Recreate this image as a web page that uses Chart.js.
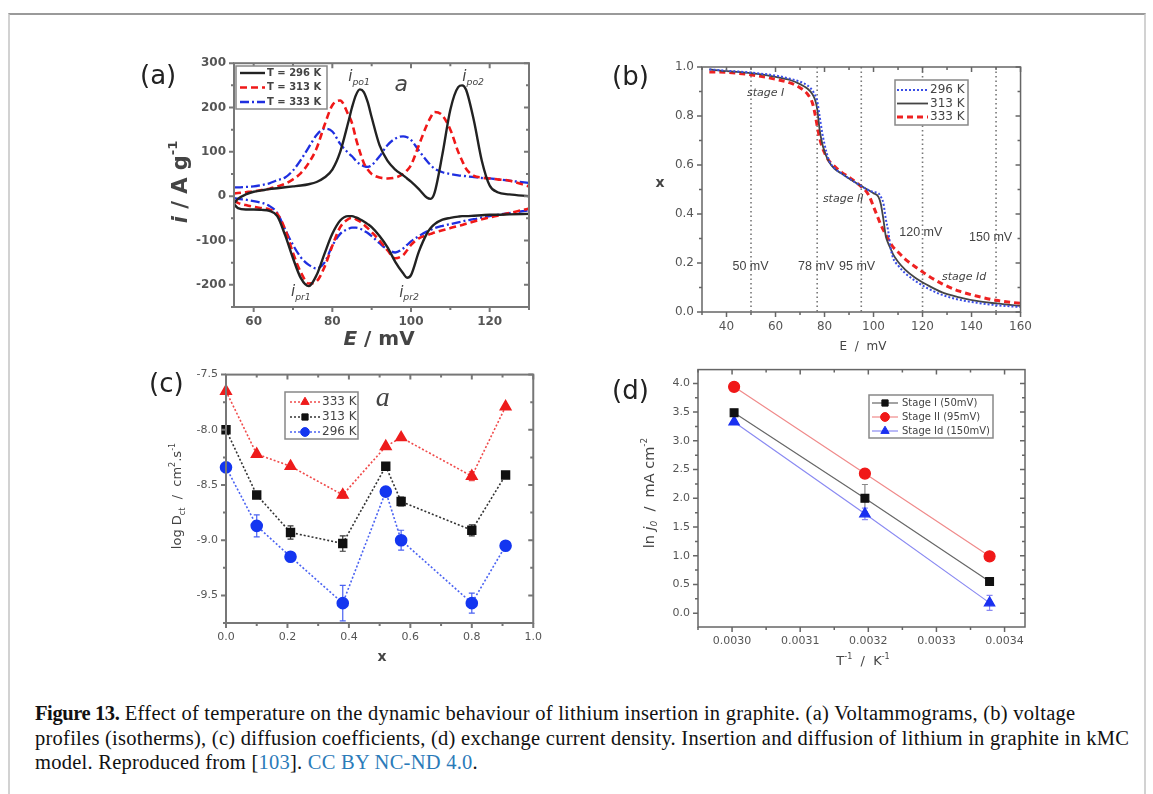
<!DOCTYPE html>
<html>
<head>
<meta charset="utf-8">
<title>Figure 13</title>
<script src="https://cdn.jsdelivr.net/npm/chart.js@4.4.1/dist/chart.umd.min.js"></script>
<style>
  body { margin: 0; background: #fff; }
  #page { position: relative; width: 1153px; height: 794px; overflow: hidden; font-family: "DejaVu Sans", sans-serif; }
  #border { position: absolute; left: 8px; top: 13px; width: 1138px; height: 800px; box-sizing: border-box;
            border-top: 2px solid #9a9a9a; border-left: 2px solid #d2d2d2; border-right: 2px solid #d2d2d2; }
  .panel { position: absolute; }
  .tag { position: absolute; font-size: 26px; color: #222; line-height: 1; }
  .cap { position: absolute; left: 35px; top: 701px; white-space: nowrap; color: #111;
         font-family: "Liberation Serif", serif; font-size: 20.5px; letter-spacing: 0.25px; line-height: 24.5px; }
  .cap b { letter-spacing: -0.4px; }
  .cap .ln { color: #2b7bb9; }
</style>
</head>
<body>
<div id="page">
  <div id="border"></div>

  <div class="panel" style="left:130px;top:48px"><canvas id="cvA" width="410" height="310"></canvas></div>
  <div class="panel" style="left:600px;top:50px"><canvas id="cvB" width="440" height="310"></canvas></div>
  <div class="panel" style="left:130px;top:360px"><canvas id="cvC" width="420" height="310"></canvas></div>
  <div class="panel" style="left:600px;top:355px"><canvas id="cvD" width="440" height="320"></canvas></div>

  <div class="tag" style="left:140px;top:62px">(a)</div>
  <div class="tag" style="left:612px;top:63px">(b)</div>
  <div class="tag" style="left:149px;top:370px">(c)</div>
  <div class="tag" style="left:612px;top:377px">(d)</div>

  <div class="cap">
    <b>Figure 13.</b> Effect of temperature on the dynamic behaviour of lithium insertion in graphite. (a) Voltammograms, (b) voltage<br>
    profiles (isotherms), (c) diffusion coefficients, (d) exchange current density. Insertion and diffusion of lithium in graphite in kMC<br>
    model. Reproduced from [<span class="ln">103</span>]. <span class="ln">CC BY NC-ND 4.0</span>.
  </div>
</div>

<script>
// ---------- (a) voltammograms : potential grid + current for each branch ----------
const aE = [55, 56, 58, 60, 62, 64, 66, 68, 70, 72, 74, 76, 78, 80, 82, 84, 85, 86, 87, 88, 89, 90,
            92, 94, 96, 98, 99, 100, 102, 104, 105, 106, 108, 110, 112, 113, 114, 116, 118, 120, 122, 125, 130];
const a296Up = [-16, -6, 4, 10, 13, 16, 18, 20, 22, 24, 27, 32, 42, 60, 100, 165, 200, 228, 241, 235, 212, 178,
                115, 80, 60, 47, 40, 33, 16, -3, -6, 8, 95, 195, 246, 250, 240, 170, 80, 24, 9, 4, 0];
const a296Dn = [-18, -27, -30, -30, -31, -33, -45, -88, -140, -185, -203, -178, -130, -85, -55, -45, -45, -48, -52, -57, -63, -70,
                -90, -115, -148, -174, -184, -178, -125, -85, -72, -63, -53, -49, -46, -45, -45, -44, -43, -42, -42, -41, -40];
const a313Up = [6, 7, 9, 11, 14, 17, 22, 28, 38, 52, 75, 108, 160, 205, 216, 185, 165, 130, 100, 75, 60, 50,
                42, 40, 42, 50, 58, 70, 115, 160, 178, 190, 182, 150, 100, 80, 62, 46, 42, 40, 38, 35, 22];
const a313Dn = [-10, -15, -20, -24, -27, -30, -40, -75, -128, -172, -197, -192, -160, -112, -70, -52, -49, -52, -57, -64, -72, -81,
                -100, -122, -140, -133, -122, -110, -95, -88, -85, -82, -77, -72, -67, -65, -62, -57, -52, -48, -44, -38, -28];
const a333Up = [20, 20, 21, 22, 25, 29, 36, 42, 58, 82, 110, 138, 152, 146, 118, 98, 90, 80, 72, 68, 66, 70,
                90, 115, 130, 135, 133, 127, 103, 80, 70, 62, 54, 50, 47, 46, 45, 43, 41, 40, 38, 35, 30];
const a333Dn = [-4, -6, -8, -11, -15, -22, -38, -75, -110, -138, -155, -163, -150, -112, -85, -74, -71, -71, -73, -78, -83, -90,
                -106, -120, -127, -118, -110, -102, -90, -80, -76, -72, -67, -63, -59, -57, -55, -52, -48, -45, -42, -38, -32];
const aLabels = ['T = 296 K', 'T = 313 K', 'T = 333 K'];
const aTicksX = [60, 80, 100, 120];
const aTicksY = [-200, -100, 0, 100, 200, 300];

// ---------- (b) voltage profiles ----------
const bE = [33, 40, 50, 60, 66, 70, 73, 75, 76, 77, 78, 79, 80, 81, 82, 84, 87, 90, 94, 98,
            100, 102, 103, 104, 105, 106, 107, 108, 110, 113, 117, 122, 128, 135, 142, 150, 160];
const b296 = [0.99, 0.985, 0.977, 0.965, 0.952, 0.94, 0.925, 0.905, 0.888, 0.862, 0.80, 0.735, 0.685, 0.645, 0.615, 0.588, 0.565, 0.545, 0.52, 0.497,
              0.49, 0.485, 0.47, 0.445, 0.38, 0.33, 0.26, 0.22, 0.19, 0.158, 0.127, 0.097, 0.07, 0.05, 0.038, 0.028, 0.02];
const b313 = [0.99, 0.983, 0.975, 0.96, 0.947, 0.93, 0.912, 0.89, 0.87, 0.83, 0.745, 0.69, 0.655, 0.63, 0.61, 0.585, 0.565, 0.545, 0.52, 0.497,
              0.485, 0.47, 0.44, 0.38, 0.31, 0.28, 0.258, 0.235, 0.205, 0.172, 0.14, 0.11, 0.08, 0.06, 0.045, 0.035, 0.025];
const b333 = [0.98, 0.978, 0.968, 0.95, 0.935, 0.915, 0.89, 0.855, 0.815, 0.76, 0.71, 0.675, 0.65, 0.63, 0.615, 0.595, 0.57, 0.55, 0.52, 0.478,
              0.43, 0.38, 0.355, 0.335, 0.315, 0.298, 0.28, 0.265, 0.245, 0.215, 0.185, 0.15, 0.115, 0.085, 0.065, 0.048, 0.035];
const bLabels = ['296 K', '313 K', '333 K'];
const bGuides = [50, 77, 95, 120, 150];
const bGuideText = ['50 mV', '78 mV', '95 mV', '120 mV', '150 mV'];
const bGuideTextAt = [[49.8, 0.185], [76.6, 0.185], [93.3, 0.185], [119.3, 0.324], [147.8, 0.303]];
const bStages = ['stage I', 'stage II', 'stage Id'];
const bStagesAt = [[56, 0.894], [87.6, 0.461], [137, 0.143]];
const bTicksX = [40, 60, 80, 100, 120, 140, 160];
const bTicksY = [0, 0.2, 0.4, 0.6, 0.8, 1.0];

// ---------- (c) diffusion coefficients ----------
const cX = [0.0, 0.1, 0.21, 0.38, 0.52, 0.57, 0.8, 0.91];
const c333 = [-7.65, -8.22, -8.33, -8.59, -8.15, -8.07, -8.42, -7.79];
const c313 = [-8.0, -8.59, -8.93, -9.03, -8.33, -8.65, -8.91, -8.41];
const c296 = [-8.34, -8.87, -9.15, -9.57, -8.56, -9.0, -9.57, -9.05];
const c333Err = [0, 0, 0, 0.03, 0, 0, 0.04, 0];
const c313Err = [0.03, 0, 0.06, 0.07, 0, 0.04, 0.05, 0];
const c296Err = [0, 0.1, 0, 0.16, 0, 0.09, 0.09, 0];
const cLabels = ['333 K', '313 K', '296 K'];
const cTicksX = [0, 0.2, 0.4, 0.6, 0.8, 1.0];
const cTicksY = [-9.5, -9.0, -8.5, -8.0, -7.5];

// ---------- (d) exchange current density ----------
const dX = [0.003003, 0.003195, 0.003378];
const dStage1 = [3.49, 2.0, 0.55];
const dStage2 = [3.94, 2.43, 0.99];
const dStageId = [3.33, 1.73, 0.18];
const dStage1Err = [0, 0.24, 0];
const dStage2Err = [0, 0, 0];
const dStageIdErr = [0, 0.1, 0.13];
const dLabels = ['Stage I (50mV)', 'Stage II (95mV)', 'Stage Id (150mV)'];
const dTicksX = [0.0030, 0.0031, 0.0032, 0.0033, 0.0034];
const dTicksY = [0, 0.5, 1.0, 1.5, 2.0, 2.5, 3.0, 3.5, 4.0];

const pts = (xs, ys) => xs.map((x, i) => ({ x, y: ys[i] }));

// text with italic / superscript / subscript pieces
function richText(ctx, x, y, parts, o) {
  const size = o.size || 12, fam = o.family || '"DejaVu Sans"', wt = o.weight || 'normal';
  const fontOf = f => {
    const s = /[ud]/.test(f) ? size * 0.62 : size;
    return (f.includes('i') ? 'italic ' : '') + wt + ' ' + s + 'px ' + fam;
  };
  ctx.save();
  ctx.translate(x, y);
  if (o.rotate) ctx.rotate(-Math.PI / 2);
  let w = 0;
  parts.forEach(([t, f = '']) => { ctx.font = fontOf(f); w += ctx.measureText(t).width; });
  let cx = o.align === 'left' ? 0 : -w / 2;
  ctx.fillStyle = o.color || '#444';
  ctx.textBaseline = 'middle';
  ctx.textAlign = 'left';
  parts.forEach(([t, f = '']) => {
    ctx.font = fontOf(f);
    const dy = f.includes('u') ? -size * 0.4 : f.includes('d') ? size * 0.35 : 0;
    ctx.fillText(t, cx, dy);
    cx += ctx.measureText(t).width;
  });
  ctx.restore();
}

// box round the plot with major and minor tick marks
const boxPlugin = o => ({
  id: 'axisBox',
  afterDatasetsDraw(chart) {
    const { ctx, chartArea: a } = chart;
    const sx = chart.scales.x, sy = chart.scales.y;
    const marks = (scale, step) => {
      const major = scale.ticks.map(t => t.value);
      const out = major.map(v => [v, 5]);
      if (step) {
        for (let v = Math.ceil(scale.min / step - 1e-6) * step; v <= scale.max + step * 1e-6; v += step) {
          if (!major.some(m => Math.abs(m - v) < step * 1e-3)) out.push([v, 3]);
        }
      }
      return out;
    };
    ctx.save();
    ctx.strokeStyle = o.color;
    ctx.lineWidth = o.width;
    ctx.setLineDash([]);
    ctx.strokeRect(a.left, a.top, a.right - a.left, a.bottom - a.top);
    ctx.beginPath();
    marks(sx, o.minorX).forEach(([v, len]) => {
      const p = sx.getPixelForValue(v);
      ctx.moveTo(p, a.bottom); ctx.lineTo(p, a.bottom + len);
      ctx.moveTo(p, a.top); ctx.lineTo(p, a.top + len);
    });
    marks(sy, o.minorY).forEach(([v, len]) => {
      const p = sy.getPixelForValue(v);
      ctx.moveTo(a.left, p); ctx.lineTo(a.left - len, p);
      ctx.moveTo(a.right, p); ctx.lineTo(a.right - len, p);
    });
    ctx.stroke();
    ctx.restore();
  }
});

// dotted vertical guide lines (panel b)
const guidesPlugin = o => ({
  id: 'guides',
  beforeDatasetsDraw(chart) {
    if (!o) return;
    const { ctx, chartArea: a } = chart;
    ctx.save();
    ctx.strokeStyle = o.color; ctx.lineWidth = o.width; ctx.setLineDash(o.dash);
    o.values.forEach(v => {
      const x = chart.scales.x.getPixelForValue(v);
      ctx.beginPath(); ctx.moveTo(x, a.top); ctx.lineTo(x, a.bottom); ctx.stroke();
    });
    ctx.restore();
  }
});

// vertical error bars from dataset.errs
const errBars = {
  id: 'errBars',
  beforeDatasetsDraw(chart) {
    const { ctx } = chart;
    const sx = chart.scales.x, sy = chart.scales.y;
    chart.data.datasets.forEach(d => {
      if (!d.errs) return;
      ctx.save();
      ctx.strokeStyle = d.errColor; ctx.lineWidth = 1.2; ctx.setLineDash([]);
      d.data.forEach((p, i) => {
        const e = d.errs[i];
        if (!e) return;
        const x = sx.getPixelForValue(p.x), y1 = sy.getPixelForValue(p.y - e), y2 = sy.getPixelForValue(p.y + e);
        ctx.beginPath();
        ctx.moveTo(x, y1); ctx.lineTo(x, y2);
        ctx.moveTo(x - 3, y1); ctx.lineTo(x + 3, y1);
        ctx.moveTo(x - 3, y2); ctx.lineTo(x + 3, y2);
        ctx.stroke();
      });
      ctx.restore();
    });
  }
};

// free text: axis titles (canvas px) and annotations (data coords)
const notesPlugin = items => ({
  id: 'notes',
  afterDraw(chart) {
    items.forEach(n => {
      const x = n.at ? chart.scales.x.getPixelForValue(n.at[0]) : n.px[0];
      const y = n.at ? chart.scales.y.getPixelForValue(n.at[1]) : n.px[1];
      richText(chart.ctx, x, y, n.parts, n);
    });
  }
});

// framed legend inside the plot
const legendPlugin = o => ({
  id: 'boxLegend',
  afterDraw(chart) {
    const { ctx } = chart;
    const items = chart.data.datasets.filter(d => d.label);
    ctx.save();
    ctx.fillStyle = '#fff';
    ctx.fillRect(o.x, o.y, o.w, o.h);
    ctx.strokeStyle = o.border; ctx.lineWidth = 1.5;
    ctx.strokeRect(o.x, o.y, o.w, o.h);
    items.forEach((d, i) => {
      const y = o.y + o.first + i * o.rowH;
      const x0 = o.x + o.lineX;
      ctx.strokeStyle = d.borderColor; ctx.lineWidth = d.borderWidth;
      ctx.setLineDash(d.borderDash || []);
      ctx.beginPath(); ctx.moveTo(x0, y); ctx.lineTo(x0 + o.lineW, y); ctx.stroke();
      ctx.setLineDash([]);
      if (d.pointRadius) {
        ctx.fillStyle = d.pointBackgroundColor; ctx.strokeStyle = d.pointBackgroundColor; ctx.lineWidth = 1;
        Chart.helpers.drawPoint(ctx, { pointStyle: d.pointStyle, radius: d.pointRadius * 0.8, rotation: 0, borderWidth: 1 }, x0 + o.lineW / 2, y);
      }
      ctx.fillStyle = o.color; ctx.font = o.font; ctx.textBaseline = 'middle'; ctx.textAlign = 'left';
      ctx.fillText(d.label, o.x + o.textX, y);
    });
    ctx.restore();
  }
});

function linAxis(min, max, ticks, size, font, fmt) {
  return {
    type: 'linear', min, max,
    grid: { display: false, drawTicks: false }, border: { display: false },
    afterBuildTicks: s => { s.ticks = ticks.map(v => ({ value: v })); },
    afterFit: s => { if (s.isHorizontal()) s.height = size; else s.width = size; },
    ticks: { color: '#555', font, padding: 8, maxRotation: 0, autoSkip: false, callback: v => fmt ? fmt(v) : String(v) }
  };
}

function plot(id, datasets, x, y, pad, cfg) {
  return new Chart(document.getElementById(id), {
    type: 'line',
    data: { datasets },
    options: {
      responsive: false, animation: false,
      layout: { padding: pad },
      scales: { x, y },
      plugins: { legend: { display: false }, tooltip: { enabled: false } }
    },
    plugins: [guidesPlugin(cfg.guides), errBars, boxPlugin(cfg.box), notesPlugin(cfg.notes), legendPlugin(cfg.legend)]
  });
}

const curve = (label, xs, ys, color, width, dash) => ({
  label, data: pts(xs, ys), borderColor: color, borderWidth: width, borderDash: dash,
  pointRadius: 0, tension: 0.4, cubicInterpolationMode: 'monotone', fill: false
});

// ---------- (a) ----------
const aBlack = '#222', aRed = '#f01818', aBlue = '#1f2fe0';
const aDash = { black: [], red: [7, 4], blue: [9, 3, 2, 3] };
plot('cvA', [
  curve(aLabels[0], aE, a296Up, aBlack, 2.4, aDash.black),
  curve(aLabels[1], aE, a313Up, aRed, 2.6, aDash.red),
  curve(aLabels[2], aE, a333Up, aBlue, 2.3, aDash.blue),
  curve('', aE, a296Dn, aBlack, 2.4, aDash.black),
  curve('', aE, a313Dn, aRed, 2.6, aDash.red),
  curve('', aE, a333Dn, aBlue, 2.3, aDash.blue)
],
  linAxis(55, 130, aTicksX, 51, { size: 12, weight: 'bold', family: '"DejaVu Sans"' }),
  linAxis(-250, 300, aTicksY, 104, { size: 12, weight: 'bold', family: '"DejaVu Sans"' }),
  { top: 10, right: 11 },
  {
    box: { color: '#777', width: 2, minorX: 10, minorY: 50 },
    legend: { x: 106, y: 18, w: 91, h: 43, first: 7, rowH: 14.5, lineX: 4, lineW: 25, textX: 31,
              font: 'bold 10px "DejaVu Sans"', color: '#444', border: '#888' },
    notes: [
      { px: [52, 134], parts: [['i', 'i'], [' / A g'], ['-1', 'u']], size: 21, weight: 'bold', rotate: true, color: '#444' },
      { px: [249, 292], parts: [['E', 'i'], [' / mV']], size: 20, weight: 'bold', color: '#444' },
      { at: [86.8, 268], parts: [['i', 'i'], ['po1', 'di']], size: 15, color: '#444' },
      { at: [115.8, 268], parts: [['i', 'i'], ['po2', 'di']], size: 15, color: '#444' },
      { at: [97.5, 251], parts: [['a', 'i']], size: 22, color: '#444' },
      { at: [72, -216], parts: [['i', 'i'], ['pr1', 'di']], size: 15, color: '#444' },
      { at: [99.5, -218], parts: [['i', 'i'], ['pr2', 'di']], size: 15, color: '#444' }
    ]
  });

// ---------- (b) ----------
plot('cvB', [
  curve(bLabels[0], bE, b296, '#3a4ee6', 2, [2, 2]),
  curve(bLabels[1], bE, b313, '#444', 1.8, []),
  curve(bLabels[2], bE, b333, '#ee2222', 3, [6, 4])
],
  linAxis(30, 160, bTicksX, 48, { size: 12, family: '"DejaVu Sans"' }),
  linAxis(0, 1, bTicksY, 102, { size: 12, family: '"DejaVu Sans"' }, v => v.toFixed(1)),
  { top: 17, right: 17 },
  {
    guides: { values: bGuides, color: '#777', width: 1.6, dash: [1.5, 3] },
    box: { color: '#666', width: 1.5, minorX: 10, minorY: 0.1 },
    legend: { x: 295, y: 30, w: 73, h: 45, first: 10, rowH: 13.5, lineX: 2, lineW: 31, textX: 35,
              font: '12px "DejaVu Sans"', color: '#444', border: '#888' },
    notes: [
      { px: [60, 133], parts: [['x']], size: 14, weight: 'bold', color: '#444' },
      { px: [263, 297], parts: [['E  /  mV']], size: 12, color: '#444' }
    ].concat(
      bGuideText.map((t, i) => ({ at: bGuideTextAt[i], parts: [[t]], size: 12.5, family: '"Liberation Sans"', color: '#444' })),
      bStages.map((t, i) => ({ at: bStagesAt[i], parts: [[t, 'i']], size: 11, color: '#444' }))
    )
  });

// ---------- (c) ----------
const marker = (label, xs, ys, errs, color, line, style, r) => ({
  label, data: pts(xs, ys), errs, errColor: line,
  borderColor: line, borderWidth: 1.6, borderDash: [2, 2], showLine: true, clip: false,
  pointStyle: style, pointRadius: r, pointBackgroundColor: color, pointBorderColor: color, tension: 0
});
plot('cvC', [
  marker(cLabels[0], cX, c333, c333Err, '#ee1c1c', '#f04a4a', 'triangle', 6),
  marker(cLabels[1], cX, c313, c313Err, '#111', '#333', 'rect', 5.5),
  marker(cLabels[2], cX, c296, c296Err, '#1436f0', '#4a62f2', 'circle', 5.5)
],
  linAxis(0, 1, cTicksX, 47, { size: 11, family: '"DejaVu Sans"' }, v => v.toFixed(1)),
  linAxis(-9.75, -7.5, cTicksY, 96, { size: 11, family: '"DejaVu Sans"' }, v => v.toFixed(1)),
  { top: 12, right: 12 },
  {
    box: { color: '#777', width: 2, minorX: 0.1, minorY: 0.25 },
    legend: { x: 155, y: 32, w: 73, h: 47, first: 10, rowH: 15, lineX: 5, lineW: 30, textX: 37,
              font: '12px "DejaVu Sans"', color: '#444', border: '#888' },
    notes: [
      { px: [48, 136], parts: [['log D'], ['ct', 'd'], ['  /  cm'], ['2', 'u'], ['.s'], ['-1', 'u']], size: 13, rotate: true, color: '#444' },
      { px: [252, 297], parts: [['x']], size: 14, weight: 'bold', color: '#444' },
      { at: [0.51, -7.72], parts: [['a', 'i']], size: 28, family: '"Liberation Serif"', color: '#444' }
    ]
  });

// ---------- (d) ----------
plot('cvD', [
  Object.assign(marker(dLabels[0], dX, dStage1, dStage1Err, '#111', '#666', 'rect', 5.5), { borderDash: [], borderWidth: 1.2, errColor: '#888' }),
  Object.assign(marker(dLabels[1], dX, dStage2, dStage2Err, '#f01818', '#f08a8a', 'circle', 5.5), { borderDash: [], borderWidth: 1.2 }),
  Object.assign(marker(dLabels[2], dX, dStageId, dStageIdErr, '#1a30f0', '#8a8af2', 'triangle', 6), { borderDash: [], borderWidth: 1.2, errColor: '#8a8af2' })
],
  linAxis(0.00295, 0.00343, dTicksX, 48, { size: 11, family: '"DejaVu Sans"' }, v => v.toFixed(4)),
  linAxis(-0.24, 4.24, dTicksY, 98, { size: 11, family: '"DejaVu Sans"' }, v => v.toFixed(1)),
  { top: 10, right: 15 },
  {
    box: { color: '#666', width: 1.5, minorX: 0.00005, minorY: 0.25 },
    legend: { x: 269, y: 40, w: 124, h: 43, first: 8, rowH: 14, lineX: 3, lineW: 26, textX: 33,
              font: '10px "DejaVu Sans"', color: '#444', border: '#888' },
    notes: [
      { px: [50, 138], parts: [['ln '], ['j', 'i'], ['0', 'di'], ['  /  mA cm'], ['-2', 'u']], size: 14.5, rotate: true, color: '#444' },
      { px: [263, 307], parts: [['T'], ['-1', 'u'], ['  /  K'], ['-1', 'u']], size: 13, color: '#444' }
    ]
  });
</script>
</body>
</html>
